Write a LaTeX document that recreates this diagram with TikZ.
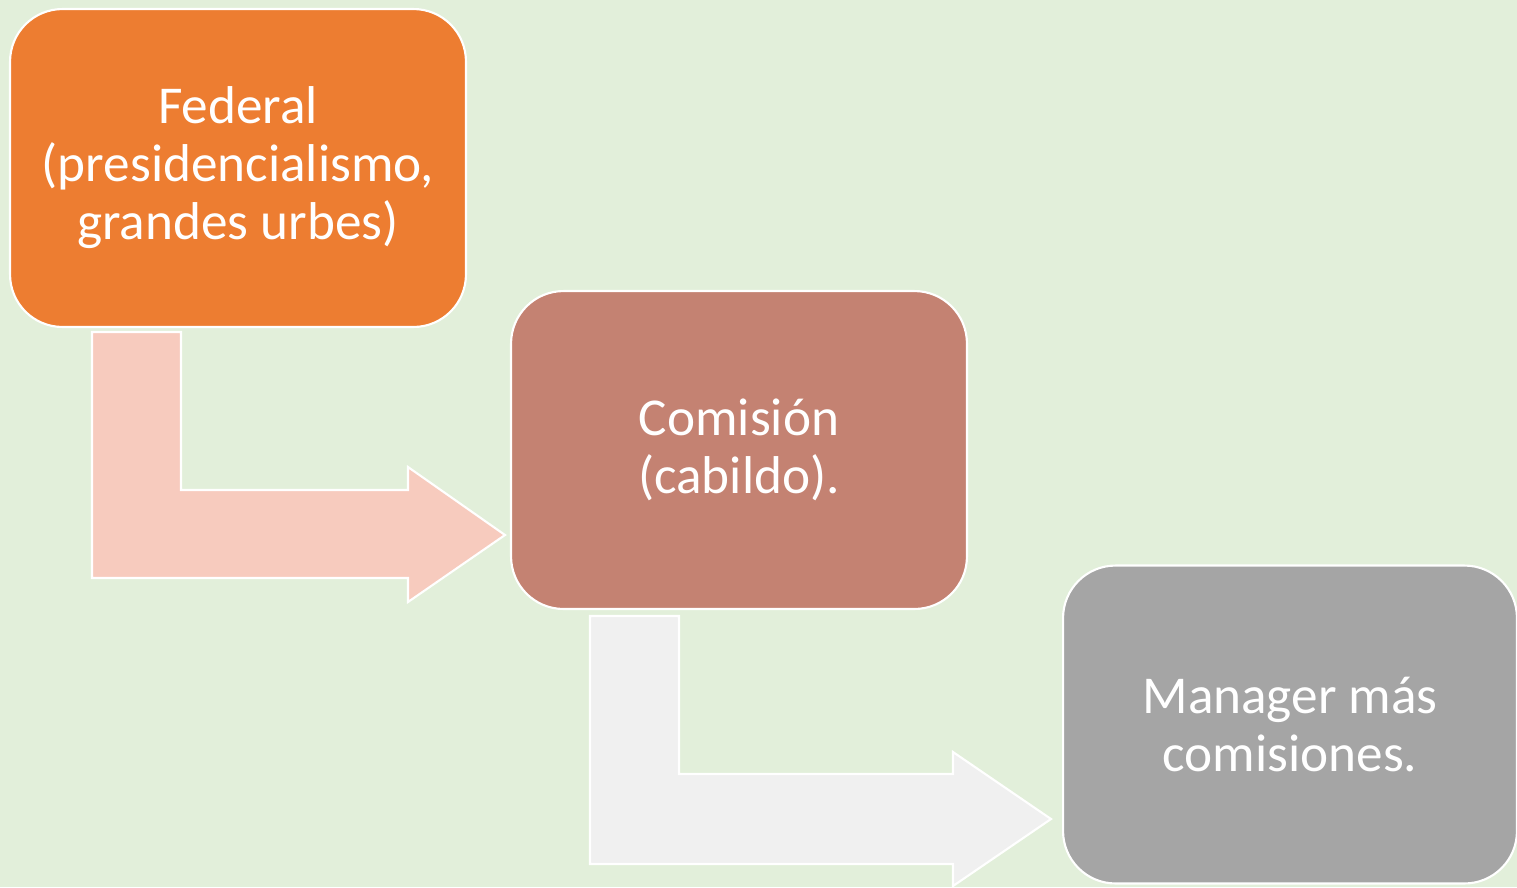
\documentclass[tikz,border=0pt]{standalone}
\usepackage{fontspec}
\setmainfont{Carlito}
\usepackage{tikz}
\usetikzlibrary{positioning,calc}

\definecolor{bggreen}{HTML}{E2EFDA}
\definecolor{fedorange}{HTML}{ED7D31}
\definecolor{comrose}{HTML}{C48272}
\definecolor{mangray}{HTML}{A5A5A5}
\definecolor{arrowpink}{HTML}{F7CBBE}
\definecolor{arrowgray}{HTML}{F0F0F0}

\begin{document}
\begin{tikzpicture}[x=0.02cm, y=-0.02cm,
    box/.style={rectangle, rounded corners=1.05cm, draw=white, line width=1.2pt,
      minimum width=9.12cm, minimum height=6.36cm, align=center, text=white,
      font=\fontsize{30.3}{33}\selectfont},
    bentarrow/.style={draw=white, line width=1.2pt}]
  \fill[bggreen] (0,0) rectangle (1517,887);
  \useasboundingbox (0,0) rectangle (1517,887);
  \node (fed) at (238,168) [box, fill=fedorange] {Federal\\(presidencialismo,\\grandes urbes)};
  \node (com) at (739,450) [box, fill=comrose] {Comisión\\(cabildo).};
  \node (man) at (1290,724.5) [box, fill=mangray, minimum width=9.08cm] {Manager más\\comisiones.};
  % bent arrows
  \draw[bentarrow, fill=arrowpink] (92,332) -- (181,332) -- (181,490) -- (408,490) -- (408,467)
    -- (505,535) -- (408,602) -- (408,578) -- (92,578) -- cycle;
  \draw[bentarrow, fill=arrowgray] (590,616) -- (679,616) -- (679,774) -- (953,774) -- (953,752)
    -- (1051,819) -- (953,886) -- (953,864) -- (590,864) -- cycle;
\end{tikzpicture}
\end{document}
